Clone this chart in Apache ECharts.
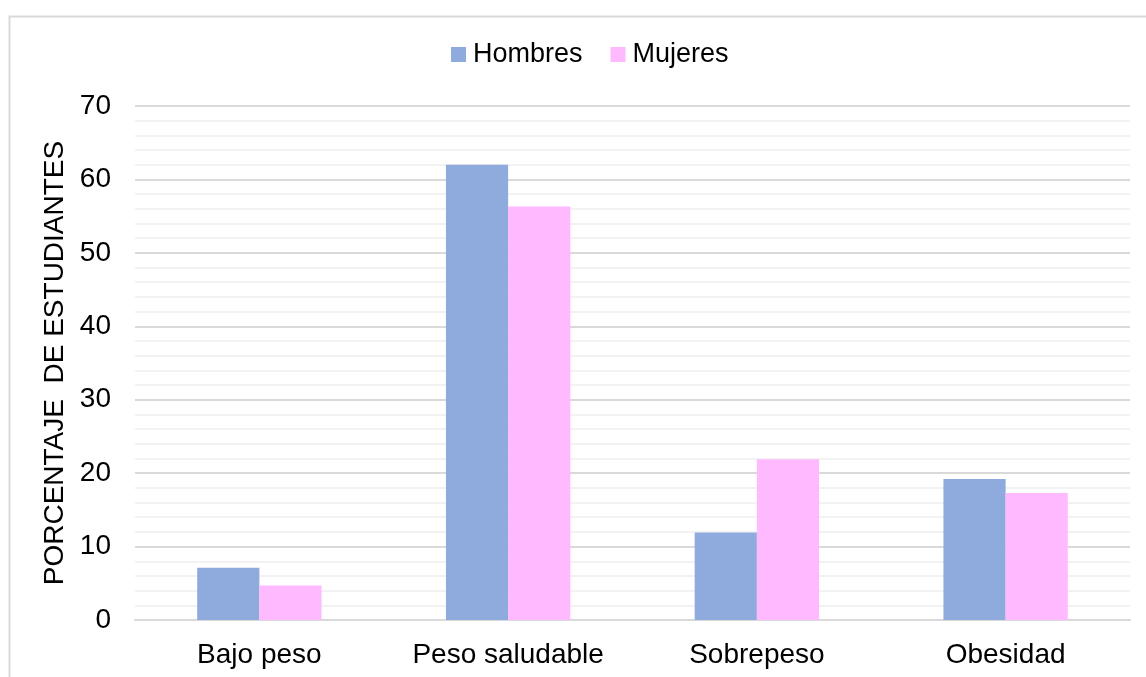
<!DOCTYPE html>
<html>
<head>
<meta charset="utf-8">
<script src="https://cdn.jsdelivr.net/npm/echarts@6/dist/echarts.min.js"></script>
<style>
  html, body { margin: 0; padding: 0; background: #fff; }
  #container { width: 1146px; height: 677px; }
</style>
</head>
<body>
<div id="container"></div>
<script>
var categories = ['Bajo peso', 'Peso saludable', 'Sobrepeso', 'Obesidad'];
var hombres = [7.1, 62.0, 11.9, 19.2];
var mujeres = [4.7, 56.3, 21.9, 17.3];
var yTicks = [0, 10, 20, 30, 40, 50, 60, 70];

var dom = document.getElementById('container');
var myChart = echarts.init(dom);

var font = 'Liberation Sans, Arial, sans-serif';

var option = {
    animation: false,
    backgroundColor: '#fff',
    textStyle: { fontFamily: font },
    graphic: [{
        type: 'rect',
        left: 7,
        top: 14,
        shape: { width: 1200, height: 700 },
        style: { fill: 'none', stroke: '#d9d9d9', lineWidth: 2 }
    }],
    legend: {
        top: 36,
        left: 446,
        itemWidth: 15,
        itemHeight: 15,
        itemGap: 28,
        icon: 'rect',
        textStyle: { fontSize: 27, color: '#000', fontFamily: font, padding: [0, 0, 0, 2] },
        data: ['Hombres', 'Mujeres']
    },
    grid: {
        left: 135,
        right: 16,
        top: 106,
        bottom: 57
    },
    xAxis: {
        type: 'category',
        data: categories,
        axisLine: { lineStyle: { color: '#d9d9d9', width: 2 } },
        axisTick: { show: false },
        axisLabel: { interval: 0, fontSize: 28, color: '#000', margin: 21, fontFamily: font }
    },
    yAxis: {
        type: 'value',
        min: yTicks[0],
        max: yTicks[yTicks.length - 1],
        interval: 10,
        name: 'PORCENTAJE  DE ESTUDIANTES',
        nameLocation: 'middle',
        nameGap: 65,
        nameTextStyle: { fontSize: 28, color: '#000', fontFamily: font },
        axisLine: { show: false },
        axisTick: { show: false },
        axisLabel: { fontSize: 28, color: '#000', margin: 24, fontFamily: font },
        splitLine: { lineStyle: { color: '#d9d9d9', width: 2 } },
        minorTick: { show: false, splitNumber: 5 },
        minorSplitLine: { show: true, lineStyle: { color: '#f2f2f2', width: 2 } }
    },
    series: [{
        name: 'Hombres',
        type: 'bar',
        data: hombres,
        barGap: '0%',
        barCategoryGap: '50%',
        itemStyle: { color: '#8faadc' }
    }, {
        name: 'Mujeres',
        type: 'bar',
        data: mujeres,
        itemStyle: { color: '#ffb9ff' }
    }]
};

myChart.setOption(option);
</script>
</body>
</html>
